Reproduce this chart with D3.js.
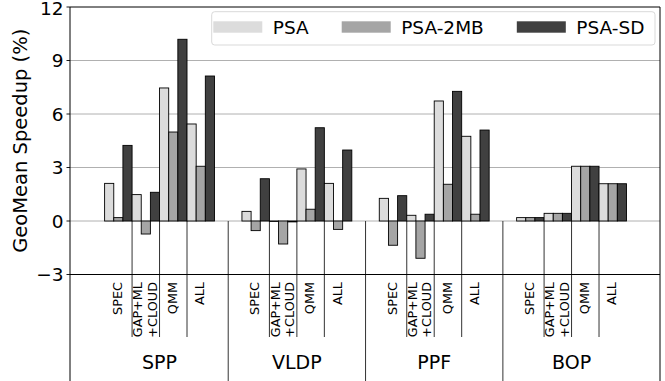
<!DOCTYPE html>
<html>
<head>
<meta charset="utf-8">
<script src="https://cdn.jsdelivr.net/npm/d3@7"></script>
<style>
  html, body { margin: 0; padding: 0; background: #fff; }
  svg { display: block; font-family: "DejaVu Sans", sans-serif; }
</style>
</head>
<body>
<svg id="chart" width="665" height="381"></svg>
<script>
// ---- data ----
const groups = ["SPP", "VLDP", "PPF", "BOP"];
const subcats = [["SPEC"], ["GAP+ML", "+CLOUD"], ["QMM"], ["ALL"]];
const seriesNames = ["PSA", "PSA-2MB", "PSA-SD"];
const seriesColors = ["#dcdcdc", "#a5a5a5", "#404040"];
// values per group: [SPEC, GAP+ML+CLOUD, QMM, ALL]
const psa    = [2.11, 1.48, 7.46, 5.44,   0.54, -0.03, 2.92, 2.11,   1.27, 0.32, 6.73, 4.75,   0.19, 0.43, 3.07, 2.09];
const psa2mb = [0.19, -0.73, 4.99, 3.07,  -0.54, -1.29, 0.66, -0.47, -1.36, -2.09, 2.06, 0.38,  0.19, 0.43, 3.07, 2.09];
const psaSD  = [4.24, 1.61, 10.19, 8.13,  2.37, -0.05, 5.23, 3.98,   1.42, 0.38, 7.27, 5.10,   0.19, 0.43, 3.07, 2.09];
const yTicks = [-3, 0, 3, 6, 9, 12];
const yLabel = "GeoMean Speedup (%)";

const seriesValues = [psa, psa2mb, psaSD];

// ---- layout ----
const svg = d3.select("#chart");
const pL = 70, pR = 660, pT = 7, pB = 274.5, figBottom = 381;
const x = d3.scaleLinear().domain([-1.26, 20.22]).range([pL, pR]);
const y = d3.scaleLinear().domain([-3, 12]).range([pB, pT]);
const slotOf = (g, s) => g * 5 + s;

// gridlines
svg.append("g").selectAll("line")
  .data(yTicks.filter(t => t > -3 && t < 12))
  .join("line")
  .attr("x1", pL).attr("x2", pR)
  .attr("y1", d => y(d)).attr("y2", d => y(d))
  .attr("stroke", "#b0b0b0").attr("stroke-width", 1);

// separators (sub-category), from zero line down
const subSeps = [];
groups.forEach((g, gi) => { [1, 2, 3].forEach(s => subSeps.push(slotOf(gi, s))); });
svg.append("g").selectAll("line").data(subSeps).join("line")
  .attr("x1", d => x(d)).attr("x2", d => x(d))
  .attr("y1", y(0)).attr("y2", 337)
  .attr("stroke", "#333").attr("stroke-width", 1);

// group separators
const grpSeps = [4.5, 9.5, 14.5];
svg.append("g").selectAll("line").data(grpSeps).join("line")
  .attr("x1", d => x(d)).attr("x2", d => x(d))
  .attr("y1", y(0)).attr("y2", figBottom)
  .attr("stroke", "#333").attr("stroke-width", 1);

// bars
const barData = [];
groups.forEach((g, gi) => {
  subcats.forEach((sc, si) => {
    seriesValues.forEach((arr, k) => {
      barData.push({ slot: slotOf(gi, si), k, v: arr[gi * 4 + si] });
    });
  });
});
svg.append("g").selectAll("rect").data(barData).join("rect")
  .attr("x", d => x(d.slot + d.k / 3))
  .attr("width", d => x(d.slot + (d.k + 1) / 3) - x(d.slot + d.k / 3))
  .attr("y", d => Math.min(y(d.v), y(0)))
  .attr("height", d => Math.max(Math.abs(y(d.v) - y(0)), 0.01))
  .attr("fill", d => seriesColors[d.k])
  .attr("stroke", "#000").attr("stroke-width", 0.9);

// frame
svg.append("line").attr("x1", pL).attr("x2", pR).attr("y1", pT).attr("y2", pT).attr("stroke", "#000");
svg.append("line").attr("x1", pL).attr("x2", pR).attr("y1", pB).attr("y2", pB).attr("stroke", "#000");
svg.append("line").attr("x1", pL).attr("x2", pL).attr("y1", pT).attr("y2", figBottom).attr("stroke", "#000");
svg.append("line").attr("x1", pR).attr("x2", pR).attr("y1", pT).attr("y2", figBottom).attr("stroke", "#000");

// y axis ticks and labels
const yAxis = svg.append("g");
yAxis.selectAll("line").data(yTicks).join("line")
  .attr("x1", pL - 3.5).attr("x2", pL)
  .attr("y1", d => y(d)).attr("y2", d => y(d))
  .attr("stroke", "#000").attr("stroke-width", 0.9);
yAxis.selectAll("text").data(yTicks).join("text")
  .attr("x", 63.5).attr("y", d => y(d) + (d === 12 ? 1.5 : 0))
  .attr("text-anchor", "end").attr("dominant-baseline", "central")
  .attr("font-size", 18.5).attr("fill", "#000")
  .text(d => d < 0 ? "\u2212" + Math.abs(d) : String(d));

svg.append("text")
  .attr("transform", `translate(27, ${(pT + pB) / 2}) rotate(-90)`)
  .attr("text-anchor", "middle")
  .attr("font-size", 19.5).attr("fill", "#000")
  .text(yLabel);

// x tick labels (sub-categories)
const xLab = svg.append("g");
groups.forEach((g, gi) => {
  subcats.forEach((lines, si) => {
    const cx = x(slotOf(gi, si) + 0.5) - 0.8;
    const n = lines.length;
    lines.forEach((ln, li) => {
      const off = (li - (n - 1) / 2) * 14.5;
      xLab.append("text")
        .attr("transform", `translate(${cx + off}, 282) rotate(-90)`)
        .attr("text-anchor", "end").attr("dominant-baseline", "central")
        .attr("font-size", 12.8).attr("fill", "#000")
        .text(ln);
    });
  });
});

// group labels
svg.append("g").selectAll("text").data(groups).join("text")
  .attr("x", (d, i) => x(slotOf(i, 2)))
  .attr("y", 369)
  .attr("text-anchor", "middle")
  .attr("font-size", 19).attr("fill", "#000")
  .text(d => d);

// legend
const lg = svg.append("g");
lg.append("rect")
  .attr("x", 211.7).attr("y", 11.7).attr("width", 443.3).attr("height", 33.3)
  .attr("rx", 3).attr("fill", "#fff").attr("fill-opacity", 0.85)
  .attr("stroke", "#d9d9d9").attr("stroke-width", 1);
let lx = 213.3;
seriesNames.forEach((name, k) => {
  lg.append("rect")
    .attr("x", lx).attr("y", 21.3).attr("width", 49).attr("height", 11.4)
    .attr("fill", seriesColors[k]);
  const t = lg.append("text")
    .attr("x", lx + 49 + 10.5).attr("y", 34)
    .attr("font-size", 18.5).attr("fill", "#000")
    .text(name);
  const w = t.node().getComputedTextLength();
  lx = lx + 49 + 10.5 + w + 33;
});
</script>
</body>
</html>
